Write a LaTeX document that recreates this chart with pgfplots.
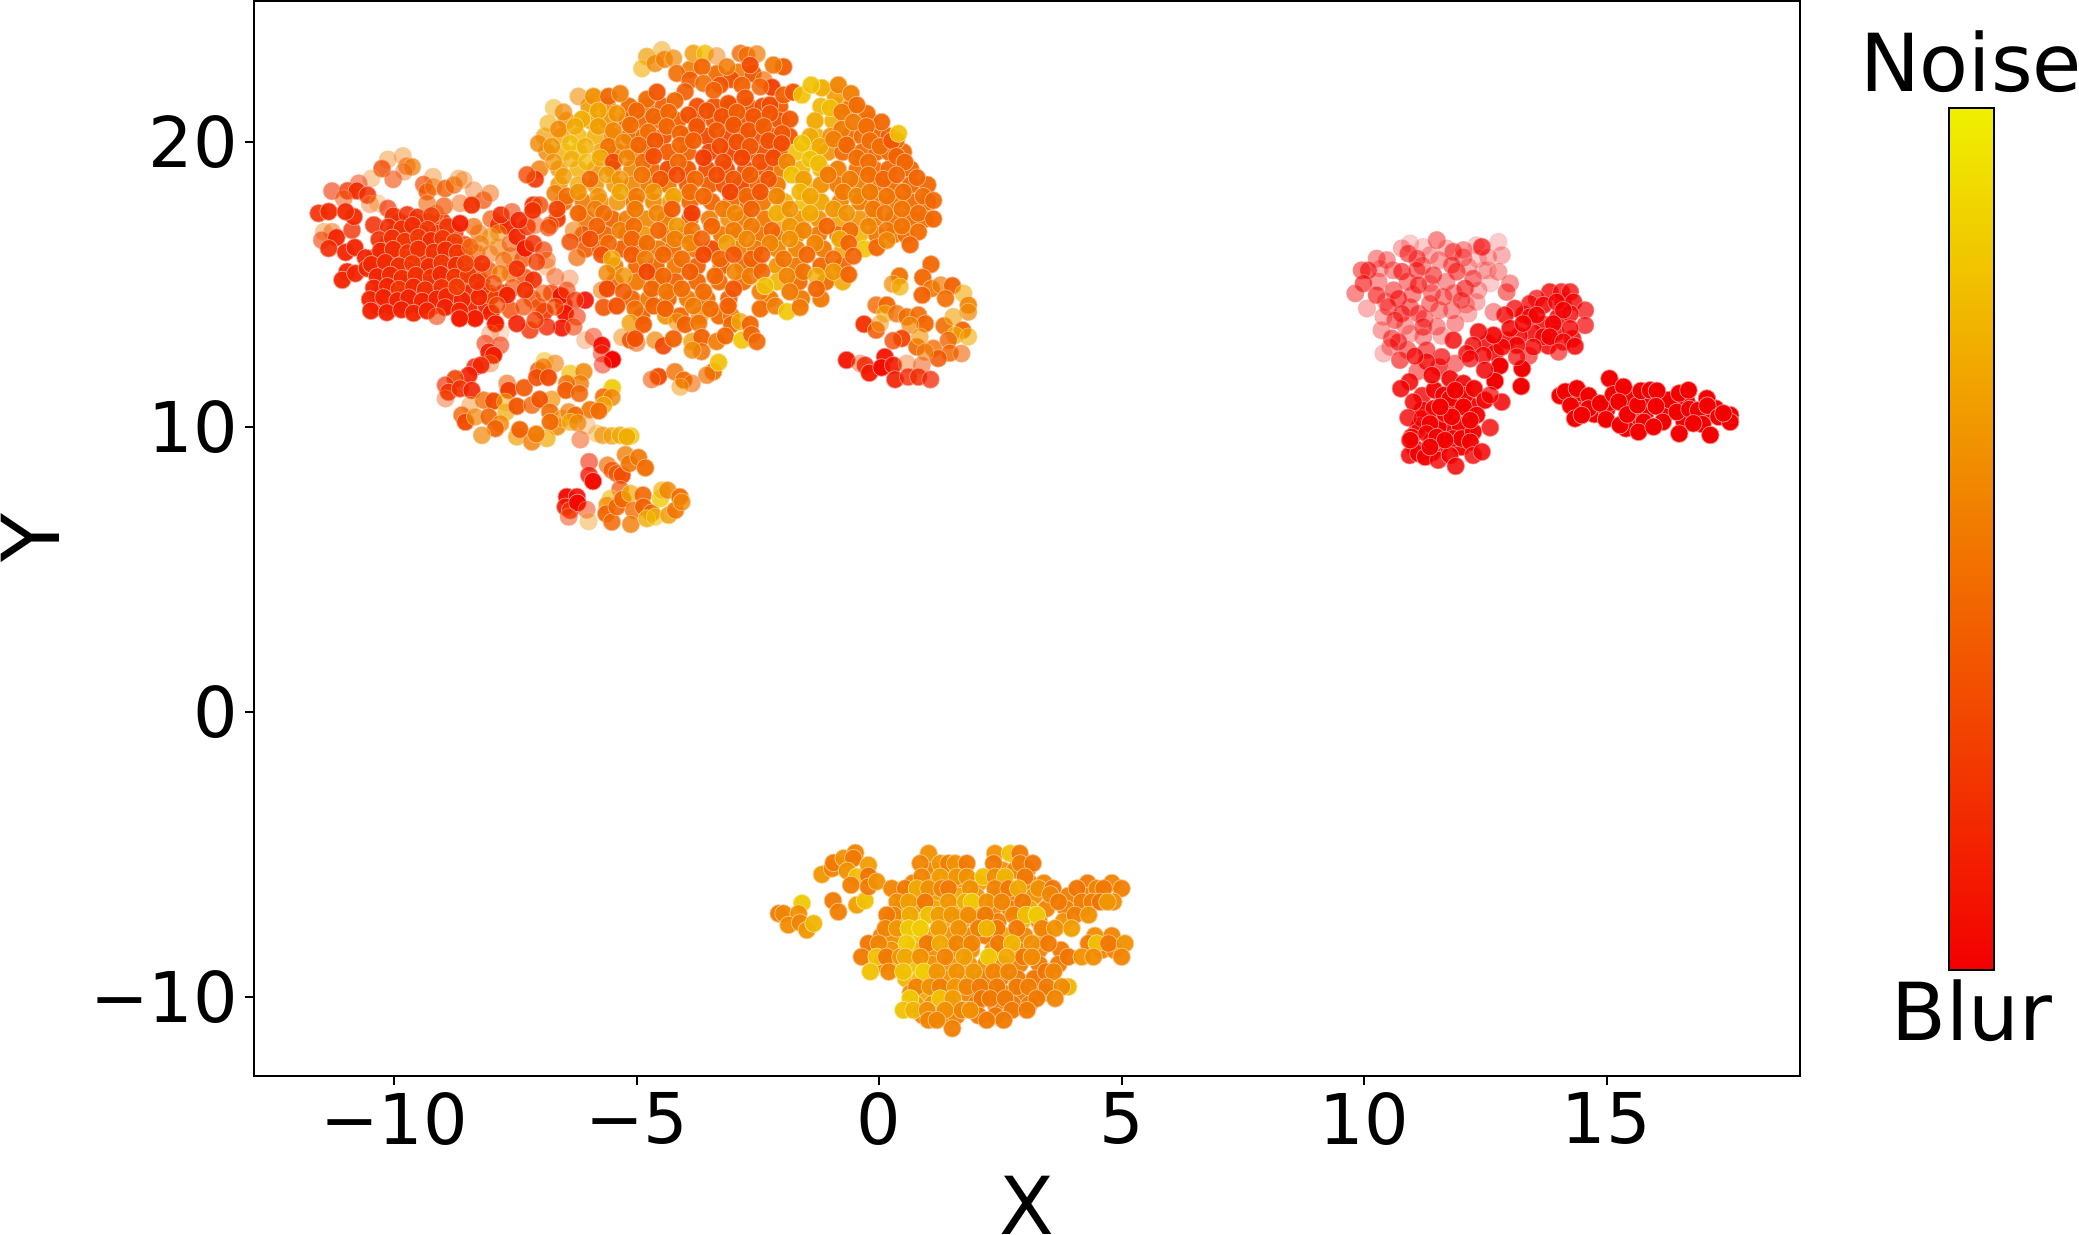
\documentclass[border=0pt]{standalone}
\usepackage{fontspec}
\setmainfont{DejaVu Sans}
\usepackage{pgfplots}
\pgfplotsset{compat=1.18}
\usepackage{pgfplotstable}

% x y colour-value alpha, one table per cluster
\pgfplotstableread{
x y m a
-5.98 21.25 .65 .9
-5.6 21.25 .58 .9
-5.15 21.25 .45 .95
-4.8 21.25 .42 .95
-4.45 21.25 .4 .95
-3.75 21.25 .33 .95
-3.4 21.25 .33 .95
-3.05 21.25 .32 .95
-2.7 21.25 .33 .95
-2.4 21.25 .3 .95
-2.05 21.25 .38 .95
-1.2 21.25 .75 .9
-0.85 21.25 .7 .9
-0.55 21.25 .48 .95
-6.45 20.75 .6 .8
-5.95 20.75 .7 .9
-5.6 20.75 .6 .9
-5.2 20.75 .42 .95
-4.85 20.75 .42 .95
-4.5 20.75 .42 .95
-4.15 20.75 .4 .95
-3.75 20.75 .33 .95
-3.4 20.75 .35 .95
-3.05 20.75 .33 .95
-2.75 20.75 .33 .95
-2.45 20.75 .35 .95
-2.05 20.75 .33 .95
-0.95 20.75 .72 .9
-0.2 20.75 .45 .95
-6.9 20.2 .65 .7
-6.55 20.2 .65 .8
-6.2 20.2 .75 .8
-5.85 20.2 .72 .85
-5.5 20.2 .58 .9
-5.15 20.2 .45 .95
-4.85 20.2 .45 .95
-4.45 20.2 .35 .95
-3.95 20.2 .38 .95
-3.55 20.2 .3 .95
-3.1 20.2 .3 .95
-2.8 20.2 .33 .95
-2.5 20.2 .33 .95
-2.2 20.2 .32 .95
-1.85 20.2 .35 .95
-1.3 20.2 .72 .9
-1.0 20.2 .6 .9
-0.6 20.2 .45 .95
-0.35 20.2 .45 .95
-0.05 20.2 .42 .95
0.2 20.2 .4 .95
-6.85 19.65 .55 .8
-6.5 19.65 .72 .8
-6.2 19.65 .78 .8
-5.75 19.65 .68 .85
-5.4 19.65 .5 .9
-5.1 19.65 .5 .9
-4.75 19.65 .4 .95
-4.35 19.65 .38 .95
-3.95 19.65 .4 .95
-3.5 19.65 .28 .95
-3.05 19.65 .28 .95
-2.7 19.65 .33 .95
-2.35 19.65 .33 .95
-2.05 19.65 .35 .95
-1.7 19.65 .8 .9
-1.35 19.65 .78 .9
-1.05 19.65 .6 .9
-0.75 19.65 .45 .95
-0.35 19.65 .45 .95
-0.05 19.65 .42 .95
0.2 19.65 .42 .95
0.5 19.65 .42 .95
-7.0 19.05 .5 .8
-6.6 19.05 .6 .8
-6.2 19.05 .72 .8
-5.85 19.05 .6 .85
-5.5 19.05 .55 .9
-5.1 19.05 .55 .9
-4.7 19.05 .42 .95
-4.35 19.05 .3 .95
-3.95 19.05 .35 .95
-3.55 19.05 .32 .95
-3.15 19.05 .3 .95
-2.75 19.05 .33 .95
-2.35 19.05 .35 .95
-2.0 19.05 .5 .95
-1.6 19.05 .75 .9
-1.2 19.05 .75 .9
-0.85 19.05 .52 .95
-0.45 19.05 .48 .95
-0.1 19.05 .45 .95
0.2 19.05 .42 .95
0.65 19.05 .42 .95
-6.6 18.5 .62 .85
-6.2 18.5 .7 .8
-5.85 18.5 .6 .85
-5.45 18.5 .62 .85
-5.1 18.5 .55 .9
-4.75 18.5 .5 .95
-4.35 18.5 .5 .95
-3.95 18.5 .35 .95
-3.5 18.5 .38 .95
-3.2 18.5 .35 .95
-2.85 18.5 .28 .95
-2.5 18.5 .4 .95
-2.1 18.5 .5 .95
-1.55 18.5 .75 .9
-1.2 18.5 .6 .95
-0.85 18.5 .5 .95
-0.45 18.5 .52 .95
-0.05 18.5 .45 .95
0.25 18.5 .45 .95
0.65 18.5 .42 .95
1.0 18.5 .42 .95
-6.5 17.9 .42 .9
-6.1 17.9 .5 .9
-5.75 17.9 .55 .85
-5.4 17.9 .6 .85
-5.05 17.9 .48 .95
-4.65 17.9 .55 .9
-4.3 17.9 .65 .9
-3.9 17.9 .42 .95
-3.45 17.9 .42 .95
-3.05 17.9 .45 .95
-2.7 17.9 .4 .95
-2.4 17.9 .5 .95
-1.95 17.9 .72 .9
-1.55 17.9 .78 .9
-1.2 17.9 .68 .95
-0.8 17.9 .55 .95
-0.4 17.9 .5 .95
-0.05 17.9 .48 .95
0.3 17.9 .48 .95
0.65 17.9 .45 .95
1.0 17.9 .42 .95
-6.05 17.3 .48 .9
-5.5 17.3 .42 .95
-5.2 17.3 .5 .9
-4.8 17.3 .55 .9
-4.4 17.3 .5 .95
-3.9 17.3 .4 .95
-3.5 17.3 .5 .9
-3.1 17.3 .58 .9
-2.8 17.3 .5 .95
-2.35 17.3 .5 .95
-1.95 17.3 .68 .9
-1.6 17.3 .62 .95
-1.25 17.3 .6 .95
-0.8 17.3 .68 .9
-0.4 17.3 .6 .9
-0.1 17.3 .52 .95
0.3 17.3 .48 .95
0.65 17.3 .45 .95
0.95 17.3 .45 .95
-6.1 16.75 .3 .9
-5.65 16.75 .42 .95
-5.2 16.75 .5 .9
-4.85 16.75 .62 .9
-4.35 16.75 .48 .95
-4.0 16.75 .5 .95
-3.25 16.75 .5 .95
-2.9 16.75 .6 .9
-2.45 16.75 .48 .95
-2.05 16.75 .5 .95
-1.7 16.75 .6 .95
-1.25 16.75 .5 .95
-0.85 16.75 .42 .95
-0.4 16.75 .75 .9
-0.05 16.75 .5 .95
0.3 16.75 .5 .95
0.55 16.75 .45 .95
-6.05 16.25 .38 .9
-5.75 16.25 .4 .9
-5.3 16.25 .4 .95
-4.95 16.25 .42 .95
-4.55 16.25 .5 .95
-4.25 16.25 .45 .95
-3.8 16.25 .5 .95
-3.45 16.25 .3 .95
-2.9 16.25 .55 .95
-2.55 16.25 .5 .95
-2.1 16.25 .55 .95
-1.7 16.25 .55 .95
-1.15 16.25 .5 .95
-0.75 16.25 .7 .9
-0.3 16.25 .82 .9
-5.45 15.65 .5 .9
-5.0 15.65 .42 .95
-4.6 15.65 .42 .95
-4.2 15.65 .5 .95
-3.75 15.65 .4 .95
-3.25 15.65 .38 .95
-2.8 15.65 .42 .95
-2.5 15.65 .5 .95
-2.1 15.65 .62 .95
-1.7 15.65 .5 .95
-1.2 15.65 .42 .95
-0.75 15.65 .42 .95
-5.45 15.1 .38 .9
-5.0 15.1 .5 .95
-4.6 15.1 .55 .95
-4.2 15.1 .4 .95
-3.75 15.1 .42 .95
-3.3 15.1 .45 .95
-2.8 15.1 .45 .95
-2.1 15.1 .75 .9
-1.65 15.1 .45 .95
-1.1 15.1 .45 .95
-0.75 15.1 .7 .9
-5.1 14.5 .42 .95
-4.75 14.5 .5 .95
-4.35 14.5 .42 .95
-3.95 14.5 .5 .95
-3.55 14.5 .45 .95
-3.1 14.5 .4 .95
-2.25 14.5 .5 .95
-1.6 14.5 .5 .95
-1.2 14.5 .5 .95
-4.9 13.9 .4 .95
-4.4 13.9 .6 .9
-4.1 13.9 .42 .95
-3.7 13.9 .6 .9
-3.3 13.9 .45 .95
-3.05 13.9 .5 .95
-3.9 22.55 .5 .9
-3.35 22.4 .45 .95
-2.9 22.45 .5 .9
-3.05 22.2 .33 .95
-2.6 22.4 .35 .95
-0.9 21.6 .65 .9
-0.6 21.2 .5 .95
-0.25 21.0 .45 .95
0.05 20.7 .42 .95
0.35 20.05 .45 .95
-9.9 17.2 .2 .95
-9.6 17.2 .2 .95
-9.3 17.2 .22 .9
-9.0 17.2 .22 .9
-10.0 16.8 .18 .95
-9.7 16.8 .2 .95
-9.4 16.8 .22 .9
-9.1 16.8 .22 .9
-8.75 16.8 .25 .85
-10.15 16.4 .18 .95
-9.9 16.4 .2 .95
-9.6 16.4 .22 .9
-9.35 16.4 .2 .95
-9.05 16.4 .22 .9
-8.8 16.4 .22 .9
-8.55 16.4 .28 .85
-10.4 15.95 .17 .95
-10.1 15.95 .17 .95
-9.85 15.95 .2 .95
-9.6 15.95 .2 .9
-9.3 15.95 .2 .95
-9.05 15.95 .2 .9
-8.8 15.95 .2 .9
-8.55 15.95 .25 .85
-10.3 15.5 .17 .95
-10.0 15.5 .17 .95
-9.7 15.5 .18 .95
-9.4 15.5 .18 .95
-9.15 15.5 .2 .9
-8.9 15.5 .2 .95
-8.6 15.5 .2 .9
-8.3 15.5 .25 .85
-10.25 15.1 .16 .95
-9.95 15.1 .16 .95
-9.7 15.1 .17 .95
-9.45 15.1 .18 .95
-9.15 15.1 .18 .9
-8.9 15.1 .18 .9
-8.55 15.1 .2 .9
-8.2 15.1 .22 .9
-10.3 14.7 .15 .95
-10.0 14.7 .15 .95
-9.75 14.7 .15 .95
-9.5 14.7 .15 .95
-9.2 14.7 .16 .95
-8.85 14.7 .16 .95
-8.45 14.7 .17 .95
-8.05 14.7 .25 .9
-7.75 14.7 .2 .9
-10.35 14.25 .14 .95
-10.05 14.25 .14 .95
-9.75 14.25 .14 .95
-9.45 14.25 .14 .95
-9.2 14.25 .14 .95
-8.8 14.25 .14 .95
-8.45 14.25 .15 .95
-8.1 14.25 .15 .95
-8.25 16.8 .45 .6
-8.0 17.3 .35 .7
-8.3 16.1 .42 .7
-7.85 16.3 .5 .6
-7.6 16.0 .42 .6
-7.35 15.9 .35 .8
-8.05 15.5 .35 .8
-7.6 15.4 .4 .7
-7.3 15.25 .3 .8
-8.0 14.6 .25 .9
-7.55 14.9 .35 .7
-7.15 14.5 .3 .8
-6.75 14.7 .25 .8
-7.6 14.1 .3 .8
-6.9 14.05 .2 .9
-6.5 14.3 .12 .9
-7.2 13.4 .2 .8
-8.0 14.0 .12 .95
-7.85 17.1 .2 .9
-7.65 17.05 .15 .95
1.1 -5.55 .55 .95
1.45 -5.55 .6 .95
1.7 -5.55 .55 .95
2.55 -5.55 .6 .95
2.8 -5.55 .55 .95
3.05 -5.55 .5 .95
0.7 -6.0 .55 .95
1.1 -6.0 .62 .95
1.65 -6.0 .58 .95
2.05 -6.0 .65 .95
2.6 -6.0 .55 .95
3.1 -6.0 .55 .95
3.4 -6.0 .55 .95
4.3 -6.0 .5 .95
4.8 -6.0 .55 .95
0.5 -6.45 .58 .95
0.85 -6.45 .6 .95
1.2 -6.45 .65 .95
1.65 -6.45 .7 .95
2.0 -6.45 .62 .95
2.4 -6.45 .58 .95
2.75 -6.45 .55 .95
3.2 -6.45 .6 .95
3.9 -6.45 .52 .95
4.3 -6.45 .55 .95
0.45 -6.9 .58 .95
0.8 -6.9 .6 .95
1.15 -6.9 .7 .95
1.55 -6.9 .6 .95
1.95 -6.9 .7 .95
2.35 -6.9 .55 .95
2.7 -6.9 .52 .95
3.1 -6.9 .7 .95
3.45 -6.9 .55 .95
3.85 -6.9 .52 .95
4.2 -6.9 .55 .95
0.25 -7.35 .58 .95
0.5 -7.35 .7 .95
0.85 -7.35 .8 .95
1.3 -7.35 .65 .95
1.7 -7.35 .6 .95
2.05 -7.35 .55 .95
2.45 -7.35 .52 .95
2.95 -7.35 .75 .95
3.3 -7.35 .6 .95
3.8 -7.35 .6 .95
0.05 -7.85 .52 .95
0.3 -7.85 .6 .95
0.75 -7.85 .83 .95
1.1 -7.85 .65 .95
1.45 -7.85 .6 .95
1.8 -7.85 .55 .95
2.2 -7.85 .5 .95
2.6 -7.85 .7 .95
3.0 -7.85 .55 .95
3.4 -7.85 .55 .95
4.45 -7.85 .58 .95
4.8 -7.85 .55 .95
0.25 -8.35 .6 .95
0.7 -8.35 .75 .95
1.05 -8.35 .6 .95
1.5 -8.35 .55 .95
1.9 -8.35 .6 .95
2.35 -8.35 .6 .95
2.85 -8.35 .55 .95
3.3 -8.35 .55 .95
3.75 -8.35 .5 .95
4.6 -8.35 .55 .95
4.85 -8.35 .55 .95
0.05 -8.85 .55 .95
0.35 -8.85 .7 .95
0.75 -8.85 .8 .95
1.1 -8.85 .6 .95
1.45 -8.85 .6 .95
1.85 -8.85 .6 .95
2.2 -8.85 .6 .95
2.55 -8.85 .55 .95
2.9 -8.85 .52 .95
3.3 -8.85 .5 .95
3.7 -8.85 .5 .95
0.55 -9.35 .75 .95
0.85 -9.35 .8 .95
1.15 -9.35 .6 .95
1.45 -9.35 .6 .95
1.8 -9.35 .6 .95
2.15 -9.35 .52 .95
2.5 -9.35 .5 .95
2.85 -9.35 .5 .95
3.2 -9.35 .48 .95
0.65 -9.85 .6 .95
0.95 -9.85 .7 .95
1.4 -9.85 .6 .95
1.8 -9.85 .55 .95
2.2 -9.85 .5 .95
2.55 -9.85 .5 .95
2.95 -9.85 .5 .95
3.4 -9.85 .5 .95
0.75 -10.25 .65 .95
1.1 -10.25 .62 .95
1.45 -10.25 .6 .95
2.0 -10.25 .5 .95
2.4 -10.25 .5 .95
2.75 -10.25 .5 .95
3.1 -10.25 .5 .95
0.9 -10.65 .55 .95
1.3 -10.65 .55 .95
1.6 -10.65 .52 .95
2.05 -10.65 .5 .95
2.4 -10.65 .5 .95
10.6 15.5 0 .4
10.9 15.1 0 .45
11.2 15.65 0 .4
11.55 15.85 0 .35
11.4 14.7 0 .45
11.7 15.1 0 .4
10.95 14.2 0 .5
10.3 15.1 0 .4
10.45 14.4 0 .35
11.0 14.65 0 .45
11.55 14.1 0 .4
11.85 14.7 0 .4
12.1 14.3 0 .3
11.25 13.8 0 .45
10.85 13.55 0 .35
11.6 13.2 0 .3
10.9 12.7 0 .5
11.55 12.1 0 .7
11.1 11.95 0 .5
12.35 15.9 0 .2
12.55 15.5 0 .2
12.05 15.95 0 .4
11.2 11.1 0 .8
11.45 11.3 0 .95
11.2 10.6 0 .95
11.85 10.7 0 .95
12.2 10.75 0 .95
11.55 10.3 0 .95
11.1 9.9 0 .8
11.75 9.85 0 .95
11.4 9.5 0 .95
11.05 9.25 0 .85
11.55 9.3 0 .95
12.0 9.3 0 .95
11.95 11.25 0 .95
12.15 10.0 0 .9
11.15 10.05 0 .85
13.3 13.95 0 .85
13.7 13.6 0 .85
14.0 13.85 0 .85
13.95 13.3 0 .85
14.3 13.1 0 .85
13.5 13.3 0 .85
13.2 13.2 0 .85
12.95 13.05 0 .85
12.55 12.95 0 .85
12.7 12.6 0 .85
13.4 12.5 0 .6
13.8 12.85 0 .85
14.1 14.4 0 .85
14.5 11.05 0 1
14.4 10.6 0 1
14.75 10.45 0 1
15.0 10.6 0 1
15.05 10.85 0 1
15.5 11.0 0 1
15.5 10.2 0 1
15.8 10.5 0 1
15.9 11.0 0 1
16.25 10.5 0 1
16.3 10.95 0 1
15.4 9.95 0 1
16.65 10.9 0 1
16.6 10.2 0 1
17.0 10.4 0 1
17.25 10.65 0 1
}\fillers

\pgfplotstableread{
x y m a
-9.82 19.51 .5 .4
-10.13 19.39 .5 .4
-10.25 19.07 .3 .8
-9.74 19.16 .4 .6
-9.63 19.13 .5 .7
-10.02 18.69 .3 .6
-9.80 18.96 .35 .4
-10.47 18.72 .5 .35
-10.73 18.55 .2 .5
-11.28 18.28 .2 .6
-10.96 18.29 .22 .8
-10.77 18.29 .2 .95
-10.55 18.14 .18 .85
-11.04 18.02 .3 .5
-10.5 17.82 .4 .4
-10.34 17.85 .5 .3
-10.13 17.67 .2 .7
-11.45 16.85 .5 .4
-11.28 16.85 .4 .5
-11.49 16.56 .25 .6
-11.19 16.65 .15 .95
-10.87 16.91 .2 .8
-11.56 17.5 .18 .9
-11.35 17.56 .17 .95
-10.83 17.38 .17 .95
-11.0 17.56 .17 .95
-11.35 16.27 .17 .9
-11.0 16.13 .15 .95
-10.81 16.3 .15 .95
-10.59 15.94 .15 .95
-10.97 15.45 .15 .95
-11.07 15.16 .15 .95
-10.8 15.39 .15 .95
-10.56 15.57 .15 .95
-10.42 17.09 .17 .85
-9.2 18.78 .5 .4
-9.39 18.51 .3 .7
-9.32 18.26 .35 .8
-9.19 18.43 .45 .5
-8.95 18.37 .38 .8
-8.77 18.49 .4 .7
-8.67 18.72 .5 .4
-8.57 18.67 .45 .4
-8.36 18.31 .4 .4
-9.32 17.85 .4 .6
-9.15 17.5 .4 .6
-8.97 17.75 .35 .7
-8.64 17.85 .4 .5
-8.16 17.96 .3 .7
-8.02 18.2 .4 .5
-10.02 17.41 .2 .9
-9.73 17.45 .18 .85
-9.52 17.36 .2 .9
-9.23 17.42 .22 .8
-10.12 17.02 .18 .9
-9.84 16.96 .2 .95
-9.62 17.08 .18 .9
-9.31 16.94 .22 .8
-8.9 17.04 .22 .85
-10.31 16.58 .18 .9
-10.04 16.64 .2 .95
-9.78 16.52 .22 .9
-9.5 16.66 .22 .85
-9.24 16.55 .18 .95
-9.0 16.62 .22 .9
-8.75 16.5 .25 .8
-10.28 16.18 .16 .95
-10.02 16.24 .18 .95
-9.72 16.12 .22 .85
-9.5 16.25 .2 .95
-9.18 16.14 .2 .9
-8.94 16.22 .18 .95
-8.7 16.12 .22 .9
-10.47 15.71 .16 .95
-10.18 15.78 .17 .95
-9.9 15.66 .2 .95
-9.62 15.74 .22 .85
-9.28 15.64 .18 .95
-9.02 15.76 .22 .9
-8.72 15.68 .18 .95
-10.35 15.28 .15 .95
-10.08 15.34 .17 .95
-9.84 15.22 .18 .9
-9.55 15.33 .2 .95
-9.24 15.25 .2 .85
-9.04 15.36 .17 .95
-8.75 15.27 .22 .9
-8.47 15.34 .24 .9
-10.42 14.88 .15 .95
-10.14 14.94 .15 .95
-9.9 14.84 .22 .85
-9.6 14.92 .17 .95
-9.36 14.82 .2 .95
-9.02 14.9 .2 .9
-8.2 14.86 .22 .9
-10.5 14.48 .14 .95
-10.22 14.55 .14 .95
-9.93 14.44 .14 .95
-9.7 14.54 .14 .95
-9.42 14.42 .15 .95
-9.12 14.5 .15 .95
-8.92 14.58 .16 .95
-8.6 14.46 .15 .95
-8.25 14.56 .16 .95
-10.48 14.08 .13 .95
-10.15 14.02 .13 .95
-9.85 14.12 .13 .95
-9.6 14.0 .14 .95
-9.32 14.08 .14 .95
-8.95 14.2 .13 .95
-8.65 14.08 .15 .95
-8.36 17.03 .42 .7
-8.02 16.68 .55 .6
-8.22 16.44 .5 .6
-7.85 16.8 .55 .5
-8.43 16.33 .4 .6
-8.02 16.09 .45 .5
-7.74 15.86 .42 .6
-7.81 15.39 .5 .7
-7.61 16.44 .35 .6
-8.4 17.79 .2 .95
-8.64 17.14 .12 .95
-7.8 17.44 .18 .9
-7.57 17.55 .25 .6
-7.47 16.68 .15 .95
-7.26 17.03 .2 .85
-7.43 17.26 .15 .9
-7.09 17.09 .3 .5
-7.3 16.27 .12 1
-7.13 16.44 .2 .85
-6.92 16.21 .25 .7
-6.85 15.62 .5 .35
-6.85 15.86 .35 .5
-7.06 15.8 .25 .8
-7.47 15.56 .2 .9
-8.19 15.74 .2 .9
-8.53 15.74 .25 .85
-8.29 15.1 .2 .85
-7.95 15.04 .3 .7
-8.71 14.92 .25 .9
-7.13 15.16 .18 .9
-6.68 15.27 .3 .5
-6.38 15.21 .35 .35
-7.3 14.8 .2 .95
-7.67 14.63 .14 .95
-6.56 14.61 .08 1
-6.44 14.8 .25 .6
-6.06 14.45 .05 .9
-6.27 14.45 .2 .7
-6.47 13.99 .08 .95
-6.54 13.48 .08 .9
-6.85 13.52 .15 .8
-7.02 14.22 .3 .7
-6.92 14.69 .35 .6
-7.33 14.22 .3 .7
-7.91 13.63 .12 1
-8.33 13.81 .13 1
-8.65 13.81 .13 1
-9.12 13.89 .25 .6
-7.88 14.28 .3 .7
-7.47 13.63 .12 .9
-7.09 13.75 .25 .8
-6.68 14.22 .3 .7
-6.23 13.87 .2 .6
-6.3 13.52 .25 .6
-7.13 17.79 .22 .95
-7.0 17.79 .3 .8
-6.64 17.3 .25 .95
-6.78 17.09 .32 .7
}\leftcluster

\pgfplotstableread{
x y m a
-4.48 23.23 .65 .5
-4.79 23.0 .65 .7
-4.89 22.58 .72 .6
-4.62 22.76 .55 .8
-4.43 22.9 .52 .8
-4.24 22.94 .55 .7
-3.83 23.11 .62 .8
-3.59 23.11 .78 .8
-3.35 23.02 .5 .5
-2.86 23.11 .42 .8
-2.73 23.05 .45 .85
-2.52 23.09 .5 .7
-2.66 22.7 .32 .95
-1.97 22.64 .38 .95
-2.18 22.7 .48 .9
-4.17 22.41 .45 .9
-3.65 22.64 .42 .95
-3.14 22.64 .5 .85
-3.9 22.18 .38 .9
-3.62 22.06 .45 .9
-3.28 22.0 .35 .95
-3.41 21.82 .4 .9
-2.83 22.0 .4 .95
-2.38 22.18 .45 .7
-2.21 21.92 .25 .95
-2.45 21.94 .4 .85
-4.0 21.77 .38 .9
-6.2 21.6 .58 .6
-5.89 21.6 .6 .95
-5.58 21.6 .42 .95
-5.34 21.7 .5 .9
-4.79 21.5 .45 .95
-4.58 21.75 .35 .95
-4.21 21.45 .42 .95
-3.11 21.35 .33 .95
-2.76 21.55 .35 .95
-2.25 21.3 .3 .95
-1.97 21.65 .4 .95
-1.77 21.75 .35 .95
-1.59 21.65 .8 .9
-1.18 21.9 .72 .95
-1.4 22.0 .8 .9
-0.84 22.0 .55 .95
-0.58 21.7 .52 .95
-6.71 21.2 .7 .5
-6.51 21.05 .55 .7
-6.13 20.8 .72 .95
-5.79 21.1 .68 .9
-5.41 21.0 .6 .9
-5.0 21.1 .42 .95
-4.65 20.9 .42 .95
-4.34 21.05 .42 .95
-3.93 20.95 .33 .95
-3.55 21.1 .33 .95
-3.24 20.9 .33 .95
-2.93 21.05 .38 .95
-2.59 20.9 .35 .95
-2.25 21.0 .35 .95
-1.84 20.8 .36 .95
-1.32 20.75 .7 .95
-1.01 21.2 .78 .9
-0.77 21.05 .5 .95
-0.46 21.3 .45 .95
-6.82 20.65 .7 .6
-6.61 20.45 .55 .8
-6.27 20.55 .7 .8
-5.79 20.55 .65 .9
-5.48 20.4 .55 .9
-5.13 20.6 .45 .95
-4.76 20.35 .45 .95
-4.38 20.55 .42 .95
-4.1 20.3 .4 .95
-3.76 20.55 .35 .95
-3.35 20.4 .35 .95
-3.0 20.6 .35 .95
-2.69 20.4 .35 .95
-2.38 20.55 .38 .95
-2.0 20.3 .36 .95
-1.42 20.2 .7 .9
-0.77 20.45 .5 .95
-0.53 20.7 .5 .95
-0.26 20.55 .45 .95
-7.02 19.95 .55 .8
-6.75 19.85 .6 .8
-6.37 19.95 .78 .7
-6.06 19.85 .72 .8
-5.58 19.85 .48 .95
-5.27 20.0 .55 .8
-4.96 19.9 .42 .95
-4.62 20.05 .35 .95
-4.1 19.9 .42 .95
-3.83 20.05 .38 .95
-3.28 19.85 .3 .95
-2.93 20.0 .33 .95
-2.66 19.85 .36 .95
-2.28 20.05 .33 .95
-2.01 19.95 .32 .95
-1.59 19.95 .8 .9
-1.22 19.85 .7 .9
-0.94 20.1 .52 .9
-0.67 19.9 .42 .95
-0.19 20.05 .45 .95
0.02 19.85 .45 .95
0.26 20.05 .35 .95
0.4 20.3 .8 .9
-6.71 19.3 .6 .7
-6.34 19.4 .7 .7
-6.03 19.3 .75 .7
-5.75 19.45 .7 .8
-5.48 19.3 .3 .9
-5.2 19.45 .55 .8
-4.86 19.3 .45 .95
-4.65 19.5 .32 .95
-4.14 19.3 .42 .95
-3.62 19.45 .25 .95
-3.21 19.3 .3 .95
-2.83 19.45 .28 .95
-2.45 19.3 .33 .95
-2.18 19.45 .3 .95
-1.9 19.3 .55 .95
-1.42 19.4 .8 .9
-1.25 19.25 .78 .95
-0.46 19.45 .45 .95
-0.22 19.3 .45 .95
0.36 19.5 .4 .95
0.53 19.3 .42 .95
-7.09 18.7 .22 .9
-7.26 18.85 .3 .8
-6.51 18.8 .65 .8
-5.96 18.7 .42 .9
-5.61 18.85 .65 .8
-5.34 18.7 .6 .8
-4.89 18.85 .48 .95
-4.51 18.7 .35 .95
-4.17 18.85 .3 .9
-3.79 18.7 .42 .95
-3.35 18.85 .32 .95
-3.0 18.7 .35 .95
-2.66 18.85 .38 .95
-2.28 18.7 .35 .95
-1.8 18.85 .8 .95
-1.56 18.7 .65 .9
-1.05 18.85 .5 .95
-0.6 18.7 .5 .95
-0.22 18.85 .45 .95
0.09 18.7 .42 .95
0.36 18.85 .42 .95
0.78 18.75 .42 .95
-6.68 18.2 .5 .85
-6.44 18.1 .45 .9
-6.2 18.25 .6 .85
-5.79 18.1 .6 .8
-5.34 18.25 .68 .85
-5.0 18.1 .5 .9
-4.65 18.25 .6 .85
-4.24 18.1 .68 .95
-3.9 18.25 .45 .95
-3.62 18.1 .42 .95
-3.07 18.25 .28 .95
-2.73 18.1 .42 .95
-2.45 18.25 .35 .95
-2.11 18.1 .55 .95
-1.63 18.25 .75 .9
-1.42 18.1 .68 .95
-0.74 18.25 .5 .95
-0.46 18.1 .55 .9
-0.19 18.25 .5 .95
0.16 18.1 .48 .95
0.5 18.25 .45 .95
0.91 18.1 .45 .95
1.12 17.95 .42 .9
-7.14 17.6 .2 .95
-6.64 17.65 .28 .95
-6.2 17.5 .42 .95
-5.85 17.65 .5 .85
-5.68 17.5 .45 .9
-5.03 17.65 .5 .95
-4.58 17.5 .55 .9
-4.27 17.65 .38 .95
-3.86 17.5 .25 .95
-3.21 17.65 .5 .95
-2.97 17.5 .55 .9
-2.63 17.65 .4 .95
-2.11 17.5 .72 .95
-1.84 17.65 .6 .9
-1.42 17.5 .7 .95
-0.94 17.65 .62 .95
-0.67 17.5 .6 .9
-0.12 17.65 .5 .95
0.12 17.5 .48 .9
0.47 17.65 .48 .95
0.81 17.5 .45 .95
1.12 17.3 .42 .95
-6.82 17.0 .3 .7
-6.3 16.9 .5 .6
-5.82 17.05 .4 .95
-5.34 16.9 .5 .9
-5.06 17.05 .45 .95
-4.55 16.9 .42 .95
-4.17 17.05 .62 .9
-3.86 16.9 .48 .9
-3.45 17.05 .42 .95
-3.0 16.9 .5 .9
-2.63 17.05 .5 .95
-2.21 16.9 .42 .95
-1.84 17.05 .62 .95
-1.56 16.9 .55 .95
-1.08 17.05 .42 .95
-0.6 16.9 .45 .95
-0.22 17.05 .55 .9
0.16 16.9 .48 .9
0.47 17.05 .48 .95
0.81 16.85 .45 .95
-6.37 16.5 .32 .85
-5.96 16.6 .33 .95
-5.58 16.45 .42 .9
-5.1 16.6 .42 .95
-4.79 16.45 .45 .95
-4.21 16.6 .52 .9
-3.9 16.45 .55 .9
-3.66 16.6 .4 .9
-3.14 16.45 .65 .9
-2.73 16.6 .55 .9
-2.25 16.45 .55 .95
-1.84 16.6 .6 .9
-1.32 16.45 .55 .95
-0.81 16.6 .7 .9
-0.63 16.45 .42 .95
-0.05 16.3 .42 .95
0.16 16.55 .55 .9
0.64 16.4 .42 .95
-6.23 15.95 .42 .7
-5.72 16.05 .33 .9
-5.51 15.9 .7 .8
-5.1 16.05 .38 .95
-4.82 15.9 .5 .9
-4.45 16.05 .42 .95
-4.07 15.9 .45 .95
-3.62 16.05 .3 .95
-3.28 15.9 .42 .95
-3.0 16.05 .35 .9
-2.63 15.9 .4 .95
-2.42 16.05 .38 .9
-1.97 15.9 .48 .95
-1.49 16.05 .42 .95
-0.94 15.9 .42 .9
-0.53 16.0 .4 .9
-5.61 15.4 .55 .8
-5.27 15.3 .6 .8
-4.79 15.45 .28 .95
-4.45 15.3 .42 .95
-3.9 15.45 .38 .95
-3.38 15.3 .42 .95
-2.97 15.45 .55 .9
-2.66 15.3 .5 .9
-2.42 15.45 .42 .9
-1.9 15.3 .55 .95
-1.56 15.45 .48 .95
-1.29 15.3 .72 .8
-0.94 15.45 .62 .95
-0.63 15.35 .42 .95
-5.72 14.8 .5 .6
-5.61 14.85 .3 .95
-5.27 14.75 .38 .9
-4.69 14.85 .42 .95
-4.38 14.75 .48 .95
-4.07 14.85 .45 .95
-3.62 14.75 .45 .95
-3.0 14.85 .35 .95
-2.45 14.75 .5 .9
-2.35 14.95 .8 .9
-1.84 14.75 .5 .95
-1.29 14.85 .42 .95
-5.68 14.2 .35 .9
-5.41 14.25 .33 .95
-5.03 14.15 .45 .9
-4.65 14.25 .4 .95
-4.41 14.15 .4 .95
-3.83 14.25 .5 .9
-3.48 14.15 .45 .95
-3.11 14.25 .4 .95
-2.45 14.15 .45 .95
-2.14 14.25 .52 .9
-1.9 14.05 .82 .9
-1.63 14.2 .5 .95
-5.13 13.65 .65 .8
-4.86 13.6 .38 .95
-4.17 13.7 .6 .6
-4.0 13.6 .4 .95
-3.72 13.65 .48 .9
-3.04 13.6 .42 .95
-2.87 13.7 .7 .8
-2.66 13.6 .42 .95
-5.3 13.15 .55 .5
-5.13 13.05 .35 .9
-5.0 12.95 .4 .6
-5.03 13.1 .33 .95
-4.62 13.05 .55 .7
-4.45 12.85 .28 .9
-4.24 13.1 .4 .95
-3.86 13.0 .65 .8
-3.66 13.15 .4 .95
-3.35 13.0 .5 .9
-3.17 13.2 .42 .95
-2.83 13.05 .82 .9
-2.63 13.25 .42 .95
-2.52 13.0 .42 .9
-3.66 12.65 .45 .85
-3.85 12.7 .55 .8
-4.55 11.77 .3 .95
-4.69 11.67 .35 .6
-4.21 11.94 .45 .8
-4.03 11.65 .45 .95
-3.86 11.53 .42 .6
-4.1 11.41 .6 .5
-3.42 11.94 .48 .95
-3.55 11.82 .45 .7
-3.31 12.27 .8 .9
}\maincluster

\pgfplotstableread{
x y m a
-8.02 13.28 .35 .3
-7.81 13.31 .4 .2
-8.12 12.93 .2 .6
-7.81 12.87 .2 .6
-8.05 12.64 .15 .95
-7.95 12.52 .12 1
-8.02 12.23 .4 .4
-8.33 12.11 .1 .8
-8.21 12.17 .15 .9
-8.46 11.82 .12 .9
-8.74 11.7 .28 .9
-8.94 11.47 .2 .7
-8.88 11.23 .2 .9
-8.64 11.35 .2 .9
-8.4 11.29 .15 .9
-8.94 11.0 .3 .4
-7.67 11.53 .4 .6
-7.64 11.29 .25 .95
-7.32 11.38 .35 .9
-8.15 10.94 .45 .8
-7.95 10.91 .3 .95
-8.43 10.77 .5 .4
-8.6 10.42 .4 .8
-8.53 10.18 .3 .95
-8.33 10.36 .55 .7
-7.71 10.88 .7 .5
-7.69 10.53 .7 .7
-7.47 10.73 .35 .95
-8.05 10.36 .42 .9
-7.81 10.12 .55 .8
-7.91 9.95 .4 .9
-8.19 9.71 .55 .7
-7.47 9.66 .65 .7
-7.41 9.91 .4 .95
-7.16 10.77 .4 .8
-6.75 10.97 .6 .7
-7.0 10.97 .35 .95
-6.79 10.53 .45 .9
-6.64 10.01 .55 .85
-6.54 10.3 .6 .7
-6.78 10.18 .45 .95
-7.16 9.48 .5 .8
-6.85 9.6 .7 .7
-7.07 9.75 .5 .95
-6.9 12.32 .75 .5
-6.68 12.23 .5 .6
-7.02 11.99 .35 .8
-6.92 12.11 .5 .7
-7.06 11.74 .3 .9
-6.82 11.74 .3 .95
-6.37 11.88 .8 .7
-6.09 11.94 .55 .85
-6.16 11.53 .5 .8
-6.44 11.53 .45 .8
-6.46 11.29 .38 .95
-6.18 11.18 .4 .85
-5.5 11.38 .83 .9
-5.68 11.06 .45 .9
-5.51 11.04 .55 .8
-5.68 10.77 .7 .8
-5.96 10.61 .48 .9
-5.78 10.57 .45 .95
-6.4 10.53 .5 .7
-6.27 10.42 .45 .95
-6.37 10.18 .7 .7
-6.22 10.15 .55 .7
-6.03 10.06 .5 .3
-5.82 9.77 .65 .4
-5.7 9.71 .6 .7
-5.51 9.69 .65 .75
-5.34 9.71 .7 .8
-5.12 9.69 .8 .8
-5.2 9.66 .72 .95
-6.16 9.56 .3 .5
-5.98 8.78 .15 .6
-5.6 8.66 .45 .7
-5.51 8.49 .35 .8
-5.41 8.37 .35 .8
-5.3 8.31 .32 .95
-5.23 9.03 .52 .8
-5.15 8.72 .48 .9
-4.96 8.93 .48 .9
-4.82 8.57 .45 .95
-5.98 8.31 .08 .8
-5.9 8.1 .06 1
-5.34 7.82 .3 .7
-6.44 7.55 .02 .95
-6.23 7.55 .05 .9
-6.47 7.2 .1 .9
-6.37 7.08 .2 .8
-6.22 7.34 .03 1
-6.4 6.85 .25 .5
-6.03 7.1 .2 .5
-5.99 6.69 .6 .4
-5.54 7.49 .75 .6
-5.61 7.26 .6 .8
-5.63 6.96 .42 .95
-5.51 6.67 .42 .85
-5.41 7.2 .42 .9
-5.29 7.47 .42 .95
-5.13 7.67 .7 .7
-5.06 7.08 .45 .8
-4.87 7.61 .42 .9
-4.86 7.2 .4 .95
-4.69 6.99 .42 .85
-5.12 6.59 .5 .8
-4.79 6.79 .7 .8
-4.62 6.85 .8 .6
-4.51 7.49 .83 .8
-4.48 7.78 .75 .7
-4.36 7.78 .55 .85
-4.34 6.91 .65 .85
-4.2 7.08 .48 .9
-4.11 7.55 .45 .95
-4.07 7.37 .55 .8
-6.06 13.05 .4 .3
-5.89 13.17 .2 .5
-5.72 12.87 .05 .95
-5.72 12.58 .15 .5
-5.5 12.37 .03 1
-5.7 12.19 .1 .5
1.07 15.71 .42 .95
0.42 15.3 .48 .95
0.28 15.02 .55 .7
0.43 14.92 .72 .7
0.9 15.25 .42 .95
1.08 14.86 .48 .9
0.89 14.63 .4 .95
1.27 14.98 .5 .7
1.51 14.96 .4 .95
1.37 14.51 .45 .9
1.74 14.69 .7 .6
1.84 14.28 .55 .9
1.84 14.04 .55 .7
-0.06 14.28 .42 .8
0.16 14.28 .42 .95
0.12 13.98 .7 .6
0.36 13.98 .45 .8
0.57 13.87 .45 .9
0.81 13.93 .45 .9
0.95 13.63 .42 .95
0.64 13.58 .55 .7
1.34 13.55 .45 .9
1.53 13.87 .65 .6
1.72 13.4 .42 .95
1.57 13.22 .7 .7
1.84 13.17 .7 .6
-0.31 13.61 .2 .95
-0.06 13.4 .35 .85
0.02 13.63 .6 .5
0.47 13.11 .28 .95
0.29 13.03 .3 .8
0.78 12.81 .42 .9
1.12 12.76 .45 .8
0.84 13.17 .6 .6
1.43 13.05 .4 .8
1.46 12.6 .42 .85
1.7 12.58 .4 .6
1.22 12.41 .35 .85
0.95 12.64 .5 .6
-0.67 12.35 .08 .95
-0.39 12.23 .3 .4
-0.29 12.17 .15 .85
-0.2 11.9 .1 .95
0.12 12.46 .08 .95
0.05 12.09 .05 1
0.29 12.17 .1 .9
0.57 12.23 .4 .4
0.88 12.17 .3 .5
0.33 11.67 .12 .9
0.6 11.76 .15 .8
0.81 11.76 .18 .85
1.06 11.67 .15 .75
}\satellites

\pgfplotstableread{
x y m a
11.50 16.56 0 .45
10.95 16.44 0 .2
10.78 16.27 0 .3
11.22 16.32 0 .2
10.91 16.09 0 .55
11.09 15.91 0 .5
11.36 16.03 0 .3
11.70 16.27 0 .25
11.84 16.15 0 .5
12.05 16.21 0 .4
12.43 16.32 0 .7
12.32 16.38 0 .2
12.77 16.5 0 .2
12.84 16.03 0 .3
12.56 15.97 0 .3
10.26 15.91 0 .4
10.47 15.86 0 .4
10.33 15.56 0 .3
9.95 15.5 0 .5
10.09 15.5 0 .6
10.78 15.45 0 .6
11.09 15.5 0 .5
11.43 15.33 0 .55
11.91 15.45 0 .55
12.15 15.62 0 .3
11.81 15.68 0 .5
12.77 15.45 0 .35
12.46 15.5 0 .2
9.99 15.04 0 .6
9.82 14.69 0 .45
10.06 14.16 0 .3
10.26 14.63 0 .6
10.61 14.8 0 .5
10.71 14.51 0 .6
11.12 14.98 0 .6
11.36 15.04 0 .3
11.64 14.57 0 .45
12.08 14.86 0 .6
12.25 15.21 0 .5
12.36 14.8 0 .3
12.6 15.04 0 .2
13.01 15.04 0 .4
12.94 14.74 0 .5
10.5 14.22 0 .5
10.78 13.98 0 .6
11.12 13.98 0 .5
11.36 14.33 0 .45
11.81 14.1 0 .4
12.15 13.98 0 .3
12.32 14.39 0 .3
12.01 14.45 0 .45
10.4 13.87 0 .3
10.36 13.4 0 .35
10.64 13.75 0 .5
11.22 13.52 0 .55
11.5 13.52 0 .4
11.88 13.63 0 .4
10.95 13.28 0 .3
10.57 13.11 0 .55
10.71 12.99 0 .6
10.4 12.58 0 .25
10.54 12.81 0 .35
11.22 13.16 0 .4
10.74 12.35 0 .6
13.83 14.74 0 .8
14.07 14.74 0 .75
14.25 14.74 0 .75
13.56 14.51 0 .7
13.42 14.33 0 .75
13.7 14.28 0 .85
13.97 14.39 0 .8
14.32 14.39 0 .8
14.56 14.1 0 .7
14.56 13.57 0 .7
14.25 13.98 0 .8
14.11 14.1 0 .8
13.42 13.87 0 .85
13.56 13.93 0 .85
13.9 13.63 0 .85
14.25 13.46 0 .8
13.11 14.16 0 .75
12.91 13.93 0 .8
12.67 14.04 0 .4
13.01 13.46 0 .85
13.28 13.63 0 .85
13.7 13.17 0 .85
13.83 13.17 0 .85
14.11 12.99 0 .8
14.35 12.84 0 .85
14.01 12.64 0 .6
13.49 12.81 0 .8
13.15 12.87 0 .85
12.84 12.81 0 .85
12.67 13.22 0 .9
12.36 13.34 0 .85
12.25 12.87 0 .8
12.12 12.58 0 .8
12.46 12.52 0 .8
11.84 13.05 0 .8
12.8 12.15 0 1
13.26 12.05 0 1
13.24 11.43 0 1
12.7 11.61 0 1
12.49 12.0 0 .85
13.15 12.46 0 .7
11.88 12.23 0 .5
11.6 12.46 0 .7
11.29 12.7 0 .6
11.29 12.29 0 .8
11.05 12.49 0 .75
11.4 11.82 0 .9
12.19 12.4 0 .7
10.94 11.59 0 .85
10.76 11.35 0 .85
11.02 10.88 0 .85
11.77 11.7 0 .9
12.05 11.53 0 .9
11.64 11.12 0 .95
11.77 11.0 0 .95
12.08 11.12 0 .95
12.27 11.35 0 .95
12.49 10.94 0 .95
12.84 10.88 0 .85
12.6 11.12 0 .7
11.44 10.65 0 .95
12.05 10.71 0 .95
12.32 10.42 0 .95
10.91 10.33 0 .8
11.19 10.3 0 .5
11.53 10.0 0 .95
11.98 10.06 0 .95
11.67 10.47 0 .95
11.36 10.12 0 .95
12.6 9.98 0 .8
10.98 9.65 0 .9
11.29 9.77 0 .8
11.5 9.65 0 .9
11.84 9.6 0 .95
12.01 9.6 0 .95
12.25 9.83 0 .95
12.19 9.48 0 .95
10.94 9.01 0 .85
11.12 9.07 0 .9
11.4 9.1 0 .95
11.26 8.95 0 .95
11.53 8.84 0 .8
11.77 9.01 0 .9
11.89 8.63 0 .85
12.25 9.01 0 .8
12.43 9.13 0 .85
10.95 9.54 0 .9
11.67 9.54 0 .9
11.81 10.36 0 .95
12.19 10.24 0 .95
11.57 10.71 0 .95
11.88 11.29 0 .95
11.36 9.3 0 .9
14.04 11.10 0 1
14.15 11.24 0 1
14.39 11.35 0 1
14.63 11.10 0 1
14.26 10.75 0 1
14.63 10.65 0 1
14.35 10.30 0 1
14.49 10.42 0 1
14.87 10.83 0 1
15.06 11.70 0 1
15.14 11.15 0 1
15.35 11.41 0 1
15.25 10.89 0 1
14.99 10.27 0 1
15.28 10.07 0 1
15.43 10.44 0 1
15.64 10.77 0 1
15.71 11.27 0 1
15.90 11.29 0 1
16.04 11.27 0 1
16.02 10.73 0 1
15.77 10.18 0 1
15.66 9.83 0 1
16.16 10.18 0 1
15.97 10.01 0 1
16.50 11.18 0 1
16.69 11.29 0 1
16.45 10.53 0 1
16.71 10.63 0 1
16.89 10.59 0 1
17.07 11.0 0 1
17.08 10.75 0 1
16.98 10.10 0 1
16.79 10.13 0 1
16.50 9.77 0 1
17.14 9.72 0 1
17.31 10.36 0 1
17.55 10.42 0 1
17.55 10.18 0 1
17.41 10.48 0 1
}\redcluster

\pgfplotstableread{
x y m a
-2.07 -7.07 .5 .95
-1.97 -7.07 .55 .95
-1.59 -6.71 .83 .95
-1.66 -7.07 .6 .95
-1.87 -7.47 .58 .95
-1.63 -7.39 .55 .95
-1.49 -7.65 .62 .95
-1.35 -7.42 .75 .95
-0.95 -6.62 .5 .95
-0.84 -7.01 .52 .95
-0.46 -6.77 .65 .95
-0.29 -6.62 .8 .95
-1.18 -5.7 .62 .95
-0.97 -5.49 .55 .95
-0.94 -5.29 .5 .95
-0.73 -5.13 .6 .95
-0.49 -4.94 .55 .95
-0.53 -5.13 .5 .95
-0.66 -5.57 .6 .95
-0.46 -5.78 .8 .95
-0.22 -5.37 .65 .95
-0.22 -5.75 .48 .95
-0.58 -6.07 .52 .95
-0.22 -6.13 .5 .95
-0.05 -5.95 .6 .95
1.02 -4.96 .6 .95
2.39 -4.96 .6 .95
2.7 -4.96 .8 .95
2.9 -4.96 .5 .95
0.85 -5.31 .55 .95
1.26 -5.31 .62 .95
1.43 -5.31 .52 .95
1.57 -5.31 .6 .95
1.81 -5.31 .5 .95
2.36 -5.31 .5 .95
2.91 -5.31 .52 .95
3.17 -5.31 .48 .95
0.88 -5.78 .55 .95
1.26 -5.78 .65 .95
1.6 -5.78 .62 .95
1.81 -5.78 .6 .95
2.15 -5.78 .78 .95
2.39 -5.78 .58 .95
2.6 -5.78 .75 .95
3.01 -5.78 .5 .95
0.26 -6.19 .55 .95
0.54 -6.19 .5 .95
0.78 -6.19 .7 .95
1.02 -6.19 .6 .95
1.29 -6.19 .55 .95
1.43 -6.19 .5 .95
1.88 -6.19 .6 .95
2.39 -6.19 .55 .95
2.67 -6.19 .5 .95
2.87 -6.19 .7 .95
3.29 -6.19 .6 .95
3.58 -6.19 .48 .95
3.53 -6.4 .55 .95
4.08 -6.19 .48 .95
4.49 -6.19 .55 .95
4.63 -6.19 .5 .95
5.0 -6.19 .52 .95
0.37 -6.66 .58 .95
0.61 -6.66 .65 .95
0.95 -6.66 .5 .95
1.43 -6.66 .62 .95
1.78 -6.66 .72 .95
1.91 -6.66 .83 .95
2.22 -6.66 .6 .95
2.53 -6.66 .55 .95
2.96 -6.66 .5 .95
3.7 -6.66 .5 .95
4.18 -6.66 .52 .95
4.39 -6.66 .52 .95
4.56 -6.66 .48 .95
4.83 -6.66 .58 .95
4.71 -6.66 .62 .95
0.3 -7.12 .55 .95
0.16 -7.12 .5 .95
0.64 -7.12 .7 .95
1.02 -7.12 .8 .95
1.23 -7.12 .65 .95
1.5 -7.12 .62 .95
1.84 -7.12 .58 .95
2.19 -7.12 .5 .95
2.77 -7.12 .55 .95
3.03 -7.12 .78 .95
3.25 -7.12 .83 .95
4.04 -7.12 .52 .95
4.32 -7.12 .6 .95
0.13 -7.59 .55 .95
0.37 -7.59 .62 .95
0.61 -7.59 .83 .95
0.85 -7.59 .85 .95
1.23 -7.59 .65 .95
1.64 -7.59 .6 .95
2.05 -7.59 .52 .95
2.43 -7.59 .5 .95
2.22 -7.59 .75 .95
2.84 -7.59 .5 .95
3.36 -7.59 .55 .95
3.63 -7.59 .6 .95
3.97 -7.59 .65 .95
-0.22 -8.12 .48 .95
-0.01 -8.12 .55 .95
0.57 -8.12 .83 .95
0.99 -8.12 .5 .95
1.26 -8.12 .7 .95
1.6 -8.12 .55 .95
1.91 -8.12 .55 .95
2.46 -8.12 .5 .95
2.74 -8.12 .75 .95
3.15 -8.12 .6 .95
3.49 -8.12 .5 .95
4.32 -8.12 .5 .95
4.49 -8.12 .8 .95
4.73 -8.12 .5 .95
5.07 -8.12 .6 .95
-0.36 -8.59 .5 .95
-0.05 -8.59 .8 .95
0.15 -8.59 .5 .95
0.44 -8.59 .62 .95
0.54 -8.59 .7 .95
0.85 -8.59 .6 .95
1.36 -8.59 .55 .95
1.75 -8.59 .65 .95
2.26 -8.59 .83 .95
2.63 -8.59 .7 .95
2.98 -8.59 .5 .95
3.15 -8.59 .58 .95
3.9 -8.59 .48 .95
4.18 -8.59 .6 .95
4.42 -8.59 .58 .95
5.0 -8.59 .55 .95
-0.18 -9.11 .8 .95
0.2 -9.11 .55 .95
0.5 -9.11 .8 .95
0.92 -9.11 .85 .95
1.19 -9.11 .62 .95
1.6 -9.11 .6 .95
1.95 -9.11 .62 .95
2.36 -9.11 .55 .95
2.67 -9.11 .55 .95
3.44 -9.11 .48 .95
3.6 -9.11 .55 .95
0.77 -9.64 .55 .95
1.05 -9.64 .6 .95
1.26 -9.64 .52 .95
1.57 -9.64 .62 .95
1.81 -9.64 .55 .95
2.08 -9.64 .5 .95
2.43 -9.64 .5 .95
2.84 -9.64 .5 .95
3.08 -9.64 .52 .95
3.46 -9.64 .5 .95
3.9 -9.64 .75 .95
3.77 -9.64 .58 .95
0.64 -10.05 .83 .95
1.26 -10.05 .8 .95
1.52 -10.05 .65 .95
2.12 -10.05 .48 .95
2.29 -10.05 .5 .95
2.6 -10.05 .5 .95
3.25 -10.05 .5 .95
3.63 -10.05 .55 .95
0.5 -10.46 .8 .95
0.71 -10.46 .75 .95
0.99 -10.46 .6 .95
1.36 -10.46 .6 .95
1.71 -10.46 .55 .95
1.88 -10.46 .6 .95
2.74 -10.46 .5 .95
3.05 -10.46 .5 .95
1.02 -10.81 .55 .95
1.19 -10.81 .55 .95
2.22 -10.81 .5 .95
2.57 -10.81 .5 .95
1.51 -11.1 .52 .95
}\bottomcluster

\pgfplotsset{
    flame/.style={colormap={flame}{rgb255=(243,0,0) rgb255=(240,240,0)}, point meta min=0, point meta max=1},
}

\begin{document}
\begin{tikzpicture}
\useasboundingbox (0,0) rectangle (1039.5pt,617.5pt);
\clip (0,0) rectangle (1039.5pt,617.5pt);
\begin{axis}[
    at={(127pt,79.5pt)},
    anchor=south west,
    scale only axis,
    width=773pt,
    height=537.5pt,
    xmin=-12.89, xmax=18.99,
    ymin=-12.77, ymax=24.95,
    axis line style={line width=1pt},
    tick style={line width=1pt, black},
    tick align=outside,
    tick pos=left,
    major tick length=4.5pt,
    xtick={-10,-5,0,5,10,15},
    xticklabels={−10,−5,0,5,10,15},
    ytick={-10,0,10,20},
    yticklabels={−10,0,10,20},
    tick label style={font=\fontsize{35}{40}\selectfont},
    xlabel={X},
    ylabel={Y},
    xlabel style={at={(axis description cs:0.5,-0.1479)}, anchor=base, font=\fontsize{40}{44}\selectfont},
    ylabel style={at={(axis description cs:-0.1261,0.5)}, anchor=base, font=\fontsize{40}{44}\selectfont},
    flame,
    dots/.style={
        scatter, only marks, mark=*, mark size=4.4pt,
        scatter src=explicit,
        scatter/use mapped color={draw=white!55!mapped color, fill=mapped color},
        mark options={line width=0.4pt},
        visualization depends on={\thisrow{a} \as \pa},
        scatter/@pre marker code/.append code={\pgfsetfillopacity{\pa}\pgfsetstrokeopacity{\pa}},
    },
]
\addplot[dots] table[x=x,y=y,meta=m] {\fillers};
\addplot[dots] table[x=x,y=y,meta=m] {\leftcluster};
\addplot[dots] table[x=x,y=y,meta=m] {\maincluster};
\addplot[dots] table[x=x,y=y,meta=m] {\satellites};
\addplot[dots] table[x=x,y=y,meta=m] {\redcluster};
\addplot[dots] table[x=x,y=y,meta=m] {\bottomcluster};
\end{axis}
% colour bar, its own small axis
\begin{axis}[
    at={(974.5pt,132.5pt)},
    anchor=south west,
    scale only axis,
    width=22.5pt,
    height=431pt,
    xmin=0, xmax=1, ymin=0, ymax=1,
    xtick=\empty, ytick=\empty,
    axis line style={line width=1pt},
    axis on top,
    flame,
]
\addplot[surf, shader=interp, mesh/rows=2, point meta=y] coordinates {(0,0) (1,0) (0,1) (1,1)};
\end{axis}
\node[anchor=base, font=\fontsize{40}{44}\selectfont] at (985.5pt,571.5pt) {Noise};
\node[anchor=base, font=\fontsize{40}{44}\selectfont] at (986pt,97pt) {Blur};
\end{tikzpicture}
\end{document}
